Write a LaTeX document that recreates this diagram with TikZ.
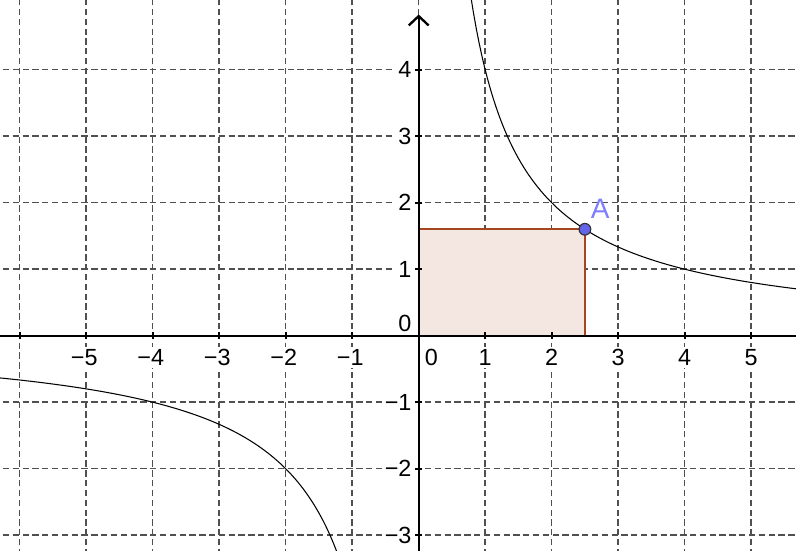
\documentclass[tikz,border=0pt]{standalone}
\usepackage{fontspec}
\setmainfont{Liberation Sans}
\usetikzlibrary{arrows.meta}
\definecolor{gridgray}{RGB}{80,80,80}
\definecolor{rectfill}{RGB}{244,230,225}
\definecolor{rectedge}{RGB}{165,70,30}
\definecolor{ptfill}{RGB}{100,100,235}
\definecolor{ptlabel}{RGB}{125,125,255}
\begin{document}
\begin{tikzpicture}[x=1cm,y=1cm,
  gridline/.style={gridgray,line width=0.6pt,dash pattern=on 2.7pt off 1.5pt},
  axisline/.style={black,line width=0.95pt},
  tickmark/.style={black,line width=0.9pt},
  lbl/.style={font=\fontsize{10pt}{11pt}\selectfont,inner sep=1.2pt,fill=white},
  curve/.style={black,line width=0.45pt}]
\useasboundingbox (-6.296,-3.223) rectangle (5.674,5.048);
\clip (-6.296,-3.223) rectangle (5.674,5.048);
% grid
\foreach \x in {-6,...,5}{\draw[gridline] (\x,-3.3) -- (\x,5.1);}
\foreach \y in {-3,...,4}{\draw[gridline] (-6.4,\y) -- (5.8,\y);}
% labels (white background interrupts grid)
\foreach \x in {-5,...,-1}{\node[lbl] (lx\x) at (\x-0.03,-0.33) {−\the\numexpr-\x\relax};}
\foreach \x in {1,...,5}{\node[lbl] (lx\x) at (\x,-0.33) {\x};}
\node[lbl] (lx0) at (0.19,-0.33) {0};
\node[lbl,anchor=east] (ly0) at (-0.06,0.18) {0};
\foreach \y in {1,...,4}{\node[lbl,anchor=east] (ly\y) at (-0.06,\y) {\y};}
\foreach \y in {-1,-2,-3}{\node[lbl,anchor=east] (ly\y) at (-0.06,\y) {−\the\numexpr-\y\relax};}
% rectangle
\draw[rectedge,line width=0.7pt,fill=rectfill] (0,0) rectangle (2.5,1.6);
% curves
\draw[curve,domain=0.78:5.8,samples=120] plot (\x,{4/\x});
\draw[curve,domain=-6.4:-1.22,samples=120] plot (\x,{4/\x});
% axes
\coordinate (xl) at (-6.4,0);
\coordinate (xr) at (5.74,0);
\coordinate (yb) at (0,-3.3);
\coordinate (yt) at (0,4.83);
\draw[axisline] (xl) -- (xr);
\draw[axisline,-{Straight Barb[length=4pt,width=8.5pt,line width=1pt]}] (yb) -- (yt);
% ticks
\foreach \x in {-6,...,5}{\draw[tickmark] (\x,-0.05) -- (\x,0.05);}
\foreach \y in {-3,...,4}{\draw[tickmark] (-0.05,\y) -- (0.05,\y);}
% point A
\node[circle,draw=black!80,line width=0.5pt,fill=ptfill,inner sep=0pt,minimum size=5pt] (A) at (2.5,1.6) {};
\node[inner sep=0pt,text=ptlabel,font=\fontsize{12pt}{13pt}\selectfont] (Alab) at (2.73,1.9) {A};
\end{tikzpicture}
\end{document}
